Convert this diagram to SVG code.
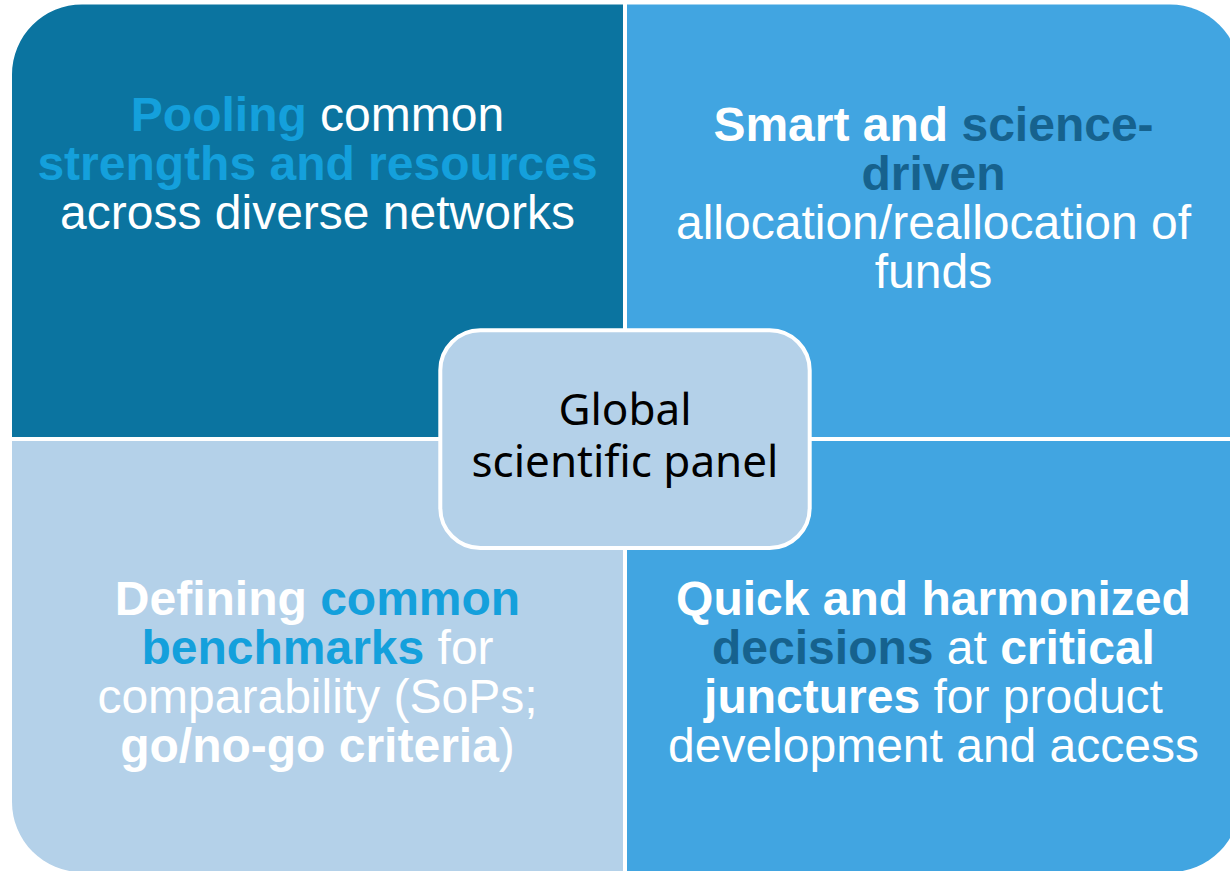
<svg xmlns="http://www.w3.org/2000/svg" width="1230" height="871" viewBox="0 0 1230 871">
<style>
.t{font-family:"Liberation Sans",Arial,sans-serif;font-size:48px;fill:#ffffff;text-anchor:middle}
.b{font-weight:bold}
.lb{fill:#14a0dc}
.db{fill:#16628e}
.c{font-family:"Noto Sans","Open Sans",sans-serif;font-size:44px;fill:#000000;text-anchor:middle}
</style>
<rect width="1230" height="871" fill="#ffffff"/>
<g id="connectors"/>
<g id="q-top-left">
<path d="M12,437 L12,74.5 A70,70 0 0 1 82,4.5 L623,4.5 L623,437 Z" fill="#0b74a0"/>
<text class="t" x="317.5" y="131"><tspan class="b lb">Pooling</tspan> common</text>
<text class="t b lb" x="317.5" y="180">strengths and resources</text>
<text class="t" x="317.5" y="229">across diverse networks</text>
</g>
<g id="q-top-right">
<path d="M627,437 L627,4.5 L1170,4.5 A70,70 0 0 1 1240,74.5 L1240,437 Z" fill="#41a5e1"/>
<text class="t" x="933.5" y="141"><tspan class="b">Smart and </tspan><tspan class="b db">science-</tspan></text>
<text class="t b db" x="933.5" y="190">driven</text>
<text class="t" x="933.5" y="239">allocation/reallocation of</text>
<text class="t" x="933.5" y="288">funds</text>
</g>
<g id="q-bottom-left">
<path d="M12,441 L623,441 L623,872 L82,872 A70,70 0 0 1 12,802 Z" fill="#b4d1e9"/>
<text class="t" x="317.5" y="615"><tspan class="b">Defining </tspan><tspan class="b lb">common</tspan></text>
<text class="t" x="317.5" y="664"><tspan class="b lb">benchmarks</tspan> for</text>
<text class="t" x="317.5" y="713">comparability (SoPs;</text>
<text class="t" x="317.5" y="762"><tspan class="b">go/no-go criteria</tspan>)</text>
</g>
<g id="q-bottom-right">
<path d="M627,441 L1240,441 L1240,802 A70,70 0 0 1 1170,872 L627,872 Z" fill="#41a5e1"/>
<text class="t b" x="933.5" y="615">Quick and harmonized</text>
<text class="t" x="933.5" y="664"><tspan class="b db">decisions</tspan> at <tspan class="b">critical</tspan></text>
<text class="t" x="933.5" y="713"><tspan class="b">junctures</tspan> for product</text>
<text class="t" x="933.5" y="762">development and access</text>
</g>
<g id="center-panel">
<rect x="440.3" y="330.3" width="369.4" height="217.7" rx="40" ry="40" fill="#b4d1e9" stroke="#ffffff" stroke-width="4"/>
<text class="c" x="625" y="425">Global</text>
<text class="c" x="625" y="477">scientific panel</text>
</g>
</svg>
